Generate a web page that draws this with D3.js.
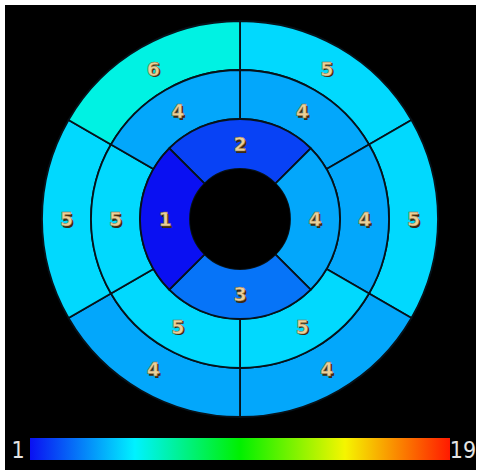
<!DOCTYPE html>
<html>
<head>
<meta charset="utf-8">
<script src="https://cdn.jsdelivr.net/npm/d3@7"></script>
<style>
  html, body { margin: 0; padding: 0; background: #fff; }
  svg { display: block; }
</style>
</head>
<body>
<svg id="chart" width="481" height="475"></svg>
<script>
// Bull's-eye plot: three rings of segments, values coloured on a 1–19 jet scale.
// Segment values listed clockwise starting at 12 o'clock.
const outerValues  = [5, 5, 4, 4, 5, 6];   // 6 segments, 60° each, first starts at 12 o'clock
const middleValues = [4, 4, 5, 5, 5, 4];   // 6 segments, same boundaries as the outer ring
const innerValues  = [2, 4, 3, 1];         // 4 segments, first centred on 12 o'clock
const scaleMin = 1;
const scaleMax = 19;
const scaleTicks = [1, 19];

const cx = 240, cy = 219;
const radii = { hole: 50, inner: 100, middle: 149, outer: 198 };

const svg = d3.select("#chart");

// black panel
svg.append("rect")
  .attr("x", 5).attr("y", 5)
  .attr("width", 471).attr("height", 465)
  .attr("fill", "#000");

// jet colour map across the value range
const jetStops = [0, 0.25, 0.5, 0.75, 1];
const jetColors = ["#0a10f2", "#00f2ff", "#00f000", "#f5f500", "#ff1a00"];
const color = d3.scaleLinear()
  .domain(jetStops.map(t => scaleMin + t * (scaleMax - scaleMin)))
  .range(jetColors)
  .interpolate(d3.interpolateRgb);

function ringSegments(values, r0, r1, offsetDeg) {
  const n = values.length;
  const step = 2 * Math.PI / n;
  const off = offsetDeg * Math.PI / 180;
  return values.map((v, i) => ({
    value: v,
    innerRadius: r0,
    outerRadius: r1,
    startAngle: off + i * step,
    endAngle: off + (i + 1) * step
  }));
}

const segments = [
  ...ringSegments(outerValues, radii.middle, radii.outer, 0),
  ...ringSegments(middleValues, radii.inner, radii.middle, 0),
  ...ringSegments(innerValues, radii.hole, radii.inner, -45)
];

const arc = d3.arc();
const g = svg.append("g").attr("transform", `translate(${cx},${cy})`);

g.selectAll("path.seg")
  .data(segments)
  .join("path")
  .attr("class", "seg")
  .attr("d", arc)
  .attr("fill", d => color(d.value))
  .attr("stroke", "#06121a")
  .attr("stroke-width", 1.8);

// centre hole
g.append("circle").attr("r", radii.hole).attr("fill", "#000");

// segment value labels, placed at the middle of each segment
const labelPos = d => {
  const a = (d.startAngle + d.endAngle) / 2;
  const r = (d.innerRadius + d.outerRadius) / 2;
  return [Math.sin(a) * r, -Math.cos(a) * r];
};

const labels = g.selectAll("g.lab")
  .data(segments)
  .join("g")
  .attr("class", "lab")
  .attr("transform", d => `translate(${labelPos(d)})`);

const labelFont = "'DejaVu Sans', Verdana, sans-serif";

labels.append("text")
  .attr("x", 1.5).attr("y", 1.5)
  .attr("text-anchor", "middle")
  .attr("dominant-baseline", "central")
  .attr("font-family", labelFont)
  .attr("font-weight", "bold")
  .attr("font-size", 19)
  .attr("fill", "#3b2a12")
  .text(d => d.value);

labels.append("text")
  .attr("text-anchor", "middle")
  .attr("dominant-baseline", "central")
  .attr("font-family", labelFont)
  .attr("font-weight", "bold")
  .attr("font-size", 19)
  .attr("fill", "#ead09a")
  .attr("stroke", "#8a6a3a")
  .attr("stroke-width", 0.5)
  .text(d => d.value);

// colour bar
const barX0 = 30, barX1 = 450, barY = 438, barH = 22;
const defs = svg.append("defs");
const grad = defs.append("linearGradient").attr("id", "jet")
  .attr("x1", "0%").attr("x2", "100%").attr("y1", "0%").attr("y2", "0%");
grad.selectAll("stop")
  .data(jetStops)
  .join("stop")
  .attr("offset", d => (d * 100) + "%")
  .attr("stop-color", (d, i) => jetColors[i]);

const barScale = d3.scaleLinear().domain([scaleMin, scaleMax]).range([barX0, barX1]);

svg.append("rect")
  .attr("x", barScale(scaleMin)).attr("y", barY)
  .attr("width", barScale(scaleMax) - barScale(scaleMin)).attr("height", barH)
  .attr("fill", "url(#jet)");

svg.selectAll("text.tick")
  .data(scaleTicks)
  .join("text")
  .attr("class", "tick")
  .attr("x", d => d === scaleMin ? barScale(d) - 12 : barScale(d) + 13)
  .attr("y", barY + barH / 2 + 1)
  .attr("text-anchor", "middle")
  .attr("dominant-baseline", "central")
  .attr("font-family", "'Liberation Sans Narrow', 'DejaVu Sans Condensed', sans-serif")
  .attr("font-size", 23)
  .attr("fill", "#e4e4e4")
  .text(d => d);
</script>
</body>
</html>
